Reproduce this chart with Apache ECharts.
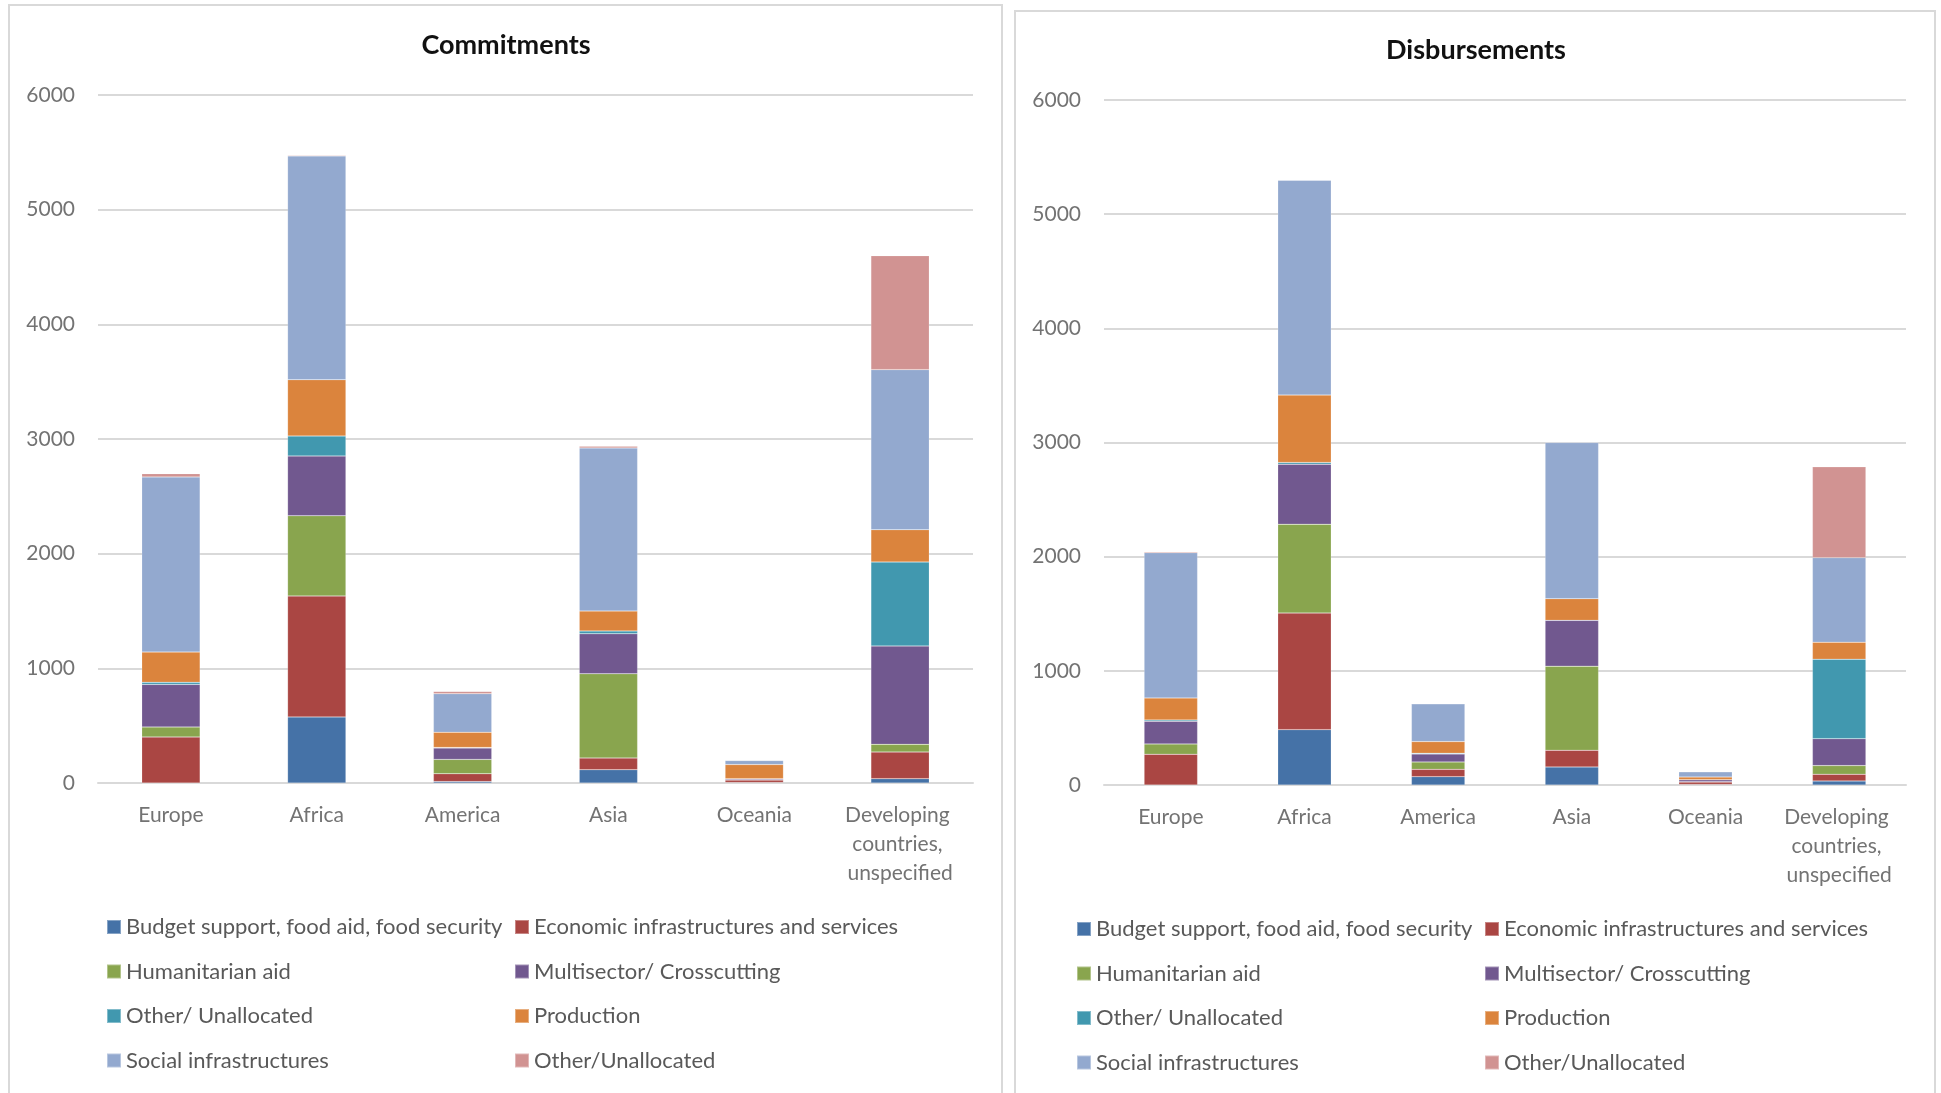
<!DOCTYPE html>
<html>
<head>
<meta charset="utf-8">
<script src="https://cdn.jsdelivr.net/npm/echarts@6/dist/echarts.min.js"></script>
<style>
  html, body { margin: 0; padding: 0; background: #ffffff; }
  #chart { width: 1941px; height: 1093px; }
</style>
</head>
<body>
<div id="chart"></div>
<script>
// Regions on the category axis
const categories = ['Europe', 'Africa', 'America', 'Asia', 'Oceania', 'Developing countries, unspecified'];

// Sector names (stack order, bottom to top)
const sectorNames = [
  'Budget support, food aid, food security',
  'Economic infrastructures and services',
  'Humanitarian aid',
  'Multisector/ Crosscutting',
  'Other/ Unallocated',
  'Production',
  'Social infrastructures',
  'Other/Unallocated'
];

// Commitments by sector, one value per region
const commitBudget       = [0, 576, 12, 116, 4, 38];
const commitEconomic     = [401, 1055, 69, 102, 22, 232];
const commitHumanitarian = [87, 700, 125, 735, 2, 67];
const commitMultisector  = [372, 521, 99, 349, 10, 858];
const commitOtherA       = [18, 174, 5, 24, 0, 732];
const commitProduction   = [264, 491, 132, 174, 123, 282];
const commitSocial       = [1527, 1952, 337, 1422, 35, 1396];
const commitOtherB       = [29, 6, 20, 14, 3, 994];

// Disbursements by sector, one value per region
const disbBudget       = [0, 485, 73, 158, 5, 35];
const disbEconomic     = [269, 1021, 64, 146, 21, 59];
const disbHumanitarian = [91, 778, 65, 737, 3, 76];
const disbMultisector  = [198, 526, 70, 401, 17, 236];
const disbOtherA       = [12, 15, 6, 0, 0, 696];
const disbProduction   = [193, 590, 102, 190, 24, 149];
const disbSocial       = [1272, 1882, 331, 1368, 46, 740];
const disbOtherB       = [9, 3, 0, 5, 0, 796];

// Value axis ticks
const yMin = 0, yMax = 6000, yStep = 1000;

const commitments = [commitBudget, commitEconomic, commitHumanitarian, commitMultisector,
                     commitOtherA, commitProduction, commitSocial, commitOtherB];
const disbursements = [disbBudget, disbEconomic, disbHumanitarian, disbMultisector,
                       disbOtherA, disbProduction, disbSocial, disbOtherB];

const sectorColors = ['#4572A7', '#AA4643', '#89A54E', '#71588F',
                      '#4198AF', '#DB843D', '#93A9CF', '#D19392'];

const FONT = 'Lato, "Open Sans", sans-serif';

function valueAxis(gridIndex) {
  return {
    type: 'value', gridIndex, min: yMin, max: yMax, interval: yStep,
    axisLine: { show: false }, axisTick: { show: false },
    axisLabel: { color: '#737373', fontSize: 21, fontFamily: FONT, margin: 23,
                 formatter: v => String(v) },
    splitLine: { lineStyle: { color: '#d9d9d9', width: 2 } }
  };
}

function categoryAxis(gridIndex) {
  return {
    type: 'category', gridIndex, data: categories,
    axisLine: { lineStyle: { color: '#d9d9d9', width: 2 } },
    axisTick: { show: false },
    axisLabel: {
      interval: 0, color: '#737373', fontSize: 21, fontFamily: FONT,
      margin: 18, lineHeight: 29, width: 125, overflow: 'break'
    }
  };
}

function stackSeries(values, axisIndex, stackId) {
  return values.map((vals, i) => ({
    name: sectorNames[i],
    type: 'bar',
    stack: stackId,
    xAxisIndex: axisIndex,
    yAxisIndex: axisIndex,
    barWidth: '40%',
    itemStyle: { color: sectorColors[i], borderColor: 'rgba(255,255,255,0.35)', borderWidth: 0.5 },
    emphasis: { disabled: true },
    data: vals
  }));
}

function legendColumn(left, top, names) {
  return {
    orient: 'vertical', left, top, padding: 0,
    itemWidth: 14, itemHeight: 14, itemGap: 20.5,
    icon: 'rect', selectedMode: false,
    textStyle: { color: '#595959', fontSize: 22, fontFamily: FONT, lineHeight: 24 },
    data: names
  };
}

const col1 = [sectorNames[0], sectorNames[2], sectorNames[4], sectorNames[6]];
const col2 = [sectorNames[1], sectorNames[3], sectorNames[5], sectorNames[7]];

const chart = echarts.init(document.getElementById('chart'), null, { renderer: 'canvas' });

chart.setOption({
  backgroundColor: '#ffffff',
  animation: false,
  title: [
    { text: 'Commitments', left: 501, top: 27, textAlign: 'center',
      textStyle: { fontSize: 27, fontWeight: 'bold', color: '#111', fontFamily: FONT } },
    { text: 'Disbursements', left: 1471, top: 32, textAlign: 'center',
      textStyle: { fontSize: 27, fontWeight: 'bold', color: '#111', fontFamily: FONT } }
  ],
  graphic: [
    { type: 'rect', shape: { x: 9, y: 5, width: 993, height: 1110 },
      style: { fill: 'none', stroke: '#d9d9d9', lineWidth: 2 }, silent: true },
    { type: 'rect', shape: { x: 1015, y: 11, width: 920, height: 1110 },
      style: { fill: 'none', stroke: '#d9d9d9', lineWidth: 2 }, silent: true }
  ],
  legend: [
    legendColumn(106, 915, col1),
    legendColumn(514, 915, col2),
    legendColumn(1076, 917, col1),
    legendColumn(1484, 917, col2)
  ],
  grid: [
    { left: 98, top: 95, width: 875, height: 688 },
    { left: 1104, top: 100, width: 802, height: 685 }
  ],
  xAxis: [categoryAxis(0), categoryAxis(1)],
  yAxis: [valueAxis(0), valueAxis(1)],
  series: [
    ...stackSeries(commitments, 0, 'commitments'),
    ...stackSeries(disbursements, 1, 'disbursements')
  ]
});
</script>
</body>
</html>
